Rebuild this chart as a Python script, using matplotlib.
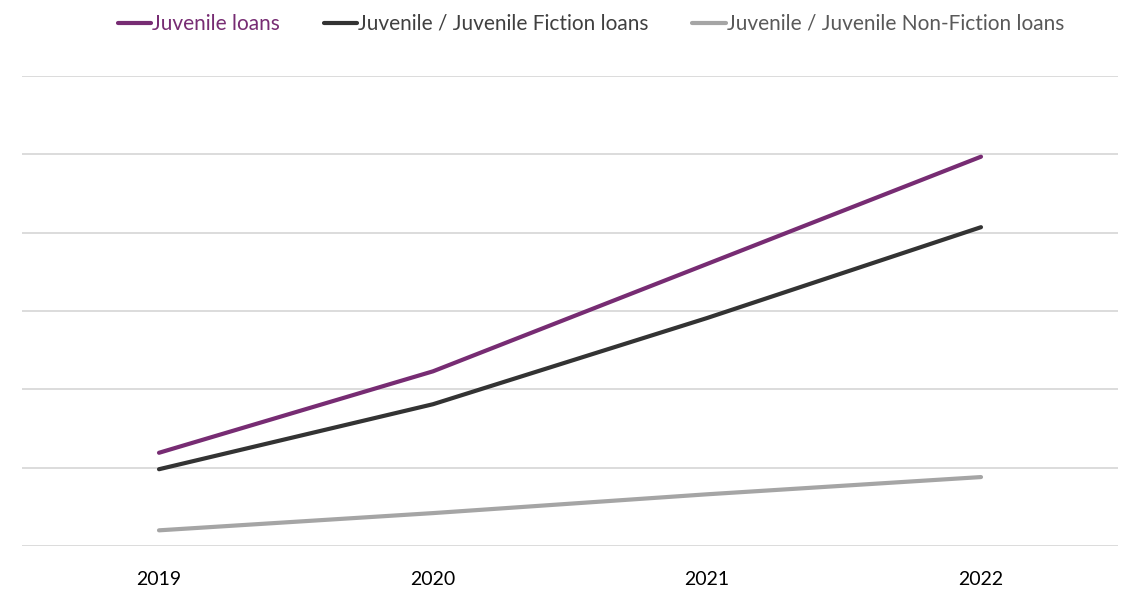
import numpy as np
import matplotlib.pyplot as plt

years = ['2019', '2020', '2021', '2022']
juvenile = [1.19, 2.23, 3.60, 4.97]
fiction = [0.98, 1.81, 2.91, 4.07]
nonfiction = [0.20, 0.42, 0.66, 0.88]

names = ['Juvenile loans', 'Juvenile / Juvenile Fiction loans', 'Juvenile / Juvenile Non-Fiction loans']
colors = ['#772C73', '#333333', '#A5A5A5']
text_colors = ['#772C73', '#404040', '#595959']

plt.rcParams['font.family'] = ['Lato', 'DejaVu Sans']

fig = plt.figure(figsize=(11.41, 6.03), dpi=100)
ax = fig.add_axes([22/1141, 57/603, 1096/1141, (546-76)/603])

x = np.arange(len(years))
for vals, name, c in zip([juvenile, fiction, nonfiction], names, colors):
    ax.plot(x, vals, color=c, lw=3, label=name, solid_capstyle='round')

ax.set_xlim(-0.5, 3.5)
ax.set_ylim(0, 6)
ax.set_yticks(np.arange(0, 7))
ax.set_yticklabels([])
ax.set_xticks(x)
ax.set_xticklabels(years, fontsize=14, color='#000000')
ax.tick_params(length=0)
ax.tick_params(axis='x', pad=18)
ax.grid(axis='y', color='#D9D9D9', lw=1.3)
ax.set_axisbelow(True)
for s in ax.spines.values():
    s.set_visible(False)

fig.legend(loc='upper center', bbox_to_anchor=(0.518, 1.008), ncol=3, frameon=False,
           fontsize=15, labelcolor=text_colors, handlelength=1.6, handletextpad=0.05,
           columnspacing=2.1)

plt.savefig('out.png', dpi=100)
